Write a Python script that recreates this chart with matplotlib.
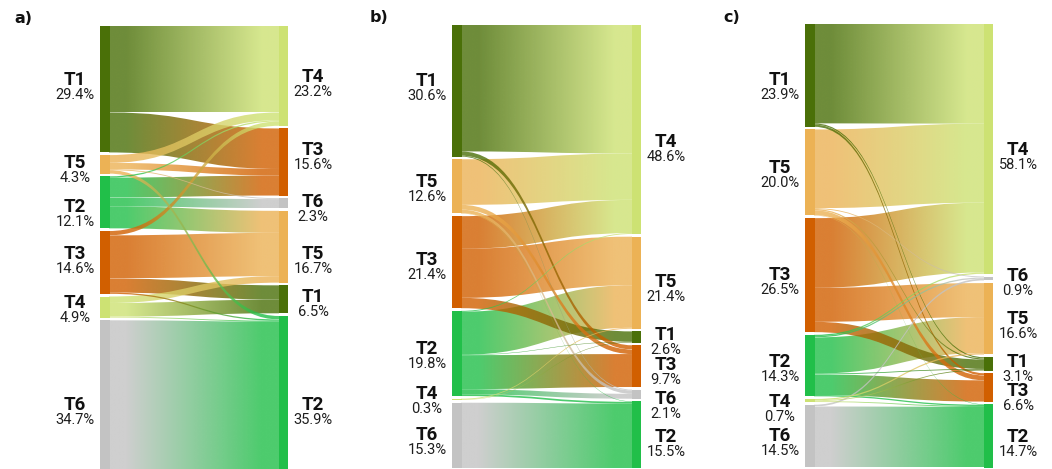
import numpy as np
import matplotlib
matplotlib.use("Agg")
import matplotlib.pyplot as plt
from matplotlib.path import Path
from matplotlib.patches import PathPatch, Rectangle
from matplotlib.colors import to_rgb

# ---------------------------------------------------------------- colours
NODE_COLORS = {
    "T1": "#4a7008",
    "T2": "#21bf49",
    "T3": "#d15f00",
    "T4": "#cde273",
    "T5": "#ecb255",
    "T6": "#c3c3c3",
}

# ---------------------------------------------------------------- panel a
A_LEFT_NODES = ["T1", "T5", "T2", "T3", "T4", "T6"]
A_LEFT_PCT = [29.4, 4.3, 12.1, 14.6, 4.9, 34.7]
A_RIGHT_NODES = ["T4", "T3", "T6", "T5", "T1", "T2"]
A_RIGHT_PCT = [23.2, 15.6, 2.3, 16.7, 6.5, 35.9]
A_SRC = ["T1", "T1",
         "T5", "T5", "T5", "T5",
         "T2", "T2", "T2", "T2",
         "T3", "T3", "T3", "T3",
         "T4", "T4", "T4",
         "T6"]
A_TGT = ["T4", "T3",
         "T4", "T3", "T6", "T2",
         "T4", "T3", "T6", "T5",
         "T4", "T5", "T1", "T2",
         "T5", "T1", "T2",
         "T2"]
A_VAL = [20.1, 9.3,
         1.8, 1.5, 0.2, 0.8,
         0.3, 4.6, 2.1, 5.1,
         1.0, 10.0, 3.3, 0.3,
         1.5, 3.2, 0.2,
         34.7]

# ---------------------------------------------------------------- panel b
B_LEFT_NODES = ["T1", "T5", "T3", "T2", "T4", "T6"]
B_LEFT_PCT = [30.6, 12.6, 21.4, 19.8, 0.3, 15.3]
B_RIGHT_NODES = ["T4", "T5", "T1", "T3", "T6", "T2"]
B_RIGHT_PCT = [48.6, 21.4, 2.6, 9.7, 2.1, 15.5]
B_SRC = ["T1", "T1", "T1",
         "T5", "T5", "T5", "T5",
         "T3", "T3", "T3",
         "T2", "T2", "T2", "T2", "T2", "T2",
         "T4", "T4",
         "T6"]
B_TGT = ["T4", "T3", "T6",
         "T4", "T3", "T6", "T2",
         "T4", "T5", "T1",
         "T4", "T5", "T1", "T3", "T6", "T2",
         "T5", "T1",
         "T2"]
B_VAL = [29.4, 1.0, 0.2,
         10.6, 1.1, 0.8, 0.1,
         7.6, 11.4, 2.4,
         0.2, 10.0, 0.1, 7.9, 1.2, 0.4,
         0.2, 0.1,
         15.3]

# ---------------------------------------------------------------- panel c
C_LEFT_NODES = ["T1", "T5", "T3", "T2", "T4", "T6"]
C_LEFT_PCT = [23.9, 20.0, 26.5, 14.3, 0.7, 14.5]
C_RIGHT_NODES = ["T4", "T6", "T5", "T1", "T3", "T2"]
C_RIGHT_PCT = [58.1, 0.9, 16.6, 3.1, 6.6, 14.7]
C_SRC = ["T1", "T1", "T1",
         "T5", "T5", "T5", "T5", "T5",
         "T3", "T3", "T3",
         "T2", "T2", "T2", "T2", "T2", "T2",
         "T4", "T4", "T4",
         "T6", "T6"]
C_TGT = ["T4", "T1", "T3",
         "T4", "T6", "T1", "T3", "T2",
         "T4", "T5", "T1",
         "T4", "T6", "T5", "T1", "T3", "T2",
         "T5", "T1", "T2",
         "T6", "T2"]
C_VAL = [23.1, 0.3, 0.5,
         18.3, 0.2, 0.3, 1.1, 0.1,
         16.2, 7.9, 2.4,
         0.3, 0.3, 8.4, 0.2, 4.8, 0.3,
         0.3, 0.2, 0.2,
         0.4, 14.1]

PANEL_LETTERS = ["a)", "b)", "c)"]

# ---------------------------------------------------------------- layout (pixels)
W_PX, H_PX = 1052, 469
PX_PER_UNIT = 4.3          # vertical pixels per percentage point
GAP_PX = 2.7               # white gap between stacked nodes
NODE_W_PX = 9.5
LINK_ALPHA = 0.8

PANEL_X = [(100, 288), (452, 641), (805, 993)]
PANEL_TOP = [26, 25, 24]
LETTER_POS = [(14, 23), (370, 22), (723, 22)]
LABEL_DX = 25
PCT_DY = 14
# baseline (px) of the class name label of each node, top to bottom
LABEL_Y_LEFT = [[85, 168, 212, 259, 308, 410],
                [86, 187, 265, 354, 399, 440],
                [85, 173, 280, 367, 407, 441]]
LABEL_Y_RIGHT = [[82, 155, 207, 259, 302, 410],
                 [147, 287, 340, 370, 404, 442],
                 [155, 281, 324, 367, 396, 442]]

NAME_FONT = dict(family="Roboto", weight="bold", size=13.5, color="#111111")
PCT_FONT = dict(family="Roboto", weight="normal", size=10.5, color="#1e1e1e")


def stack_tops(values, gap):
    tops, y = [], 0.0
    for v in values:
        tops.append(y)
        y += v + gap
    return tops


def band_path(x0, x1, s0, s1, t0, t1):
    xm = 0.5 * (x0 + x1)
    verts = [(x0, s0), (xm, s0), (xm, t0), (x1, t0),
             (x1, t1),
             (xm, t1), (xm, s1), (x0, s1),
             (x0, s0)]
    codes = [Path.MOVETO, Path.CURVE4, Path.CURVE4, Path.CURVE4,
             Path.LINETO,
             Path.CURVE4, Path.CURVE4, Path.CURVE4,
             Path.CLOSEPOLY]
    return Path(verts, codes)


def gradient_rgba(c_from, c_to, n=256):
    t = np.linspace(0, 1, n)
    ramp = np.clip((t - 0.1) / 0.8, 0, 1)
    a = np.array(to_rgb(c_from))
    b = np.array(to_rgb(c_to))
    img = np.zeros((1, n, 4))
    img[0, :, :3] = a + (b - a) * ramp[:, None]
    img[0, :, 3] = LINK_ALPHA
    return img


def draw_panel(fig, k, lnodes, lpct, rnodes, rpct, src, tgt, val):
    left_px, right_px = PANEL_X[k]
    top_px = PANEL_TOP[k]
    width = right_px - left_px
    height_px = H_PX - top_px + 3
    ax = fig.add_axes([left_px / W_PX, 1 - (top_px + height_px) / H_PX,
                       width / W_PX, height_px / H_PX])
    ax.axis("off")

    gap = GAP_PX / PX_PER_UNIT
    ltop = dict(zip(lnodes, stack_tops(lpct, gap)))
    rtop = dict(zip(rnodes, stack_tops(rpct, gap)))
    lsize = dict(zip(lnodes, lpct))
    rsize = dict(zip(rnodes, rpct))

    links = list(zip(src, tgt, val))
    out_sum = {n: sum(v for s, t, v in links if s == n) for n in lnodes}
    in_sum = {n: sum(v for s, t, v in links if t == n) for n in rnodes}

    # stack the link ends inside each node, ordered by the opposite node
    src_span, tgt_span = {}, {}
    for n in lnodes:
        y = ltop[n]
        idx = [i for i, l in enumerate(links) if l[0] == n]
        idx.sort(key=lambda i: rnodes.index(links[i][1]))
        for i in idx:
            h = links[i][2] * lsize[n] / out_sum[n]
            src_span[i] = (y, y + h)
            y += h
    for n in rnodes:
        y = rtop[n]
        idx = [i for i, l in enumerate(links) if l[1] == n]
        idx.sort(key=lambda i: lnodes.index(links[i][0]))
        for i in idx:
            h = links[i][2] * rsize[n] / in_sum[n]
            tgt_span[i] = (y, y + h)
            y += h

    x0, x1 = NODE_W_PX - 0.5, width - NODE_W_PX + 0.5
    order = sorted(range(len(links)), key=lambda i: -links[i][2])
    for z, i in enumerate(order):
        s, t, v = links[i]
        (s0, s1), (t0, t1) = src_span[i], tgt_span[i]
        path = band_path(x0, x1, s0, s1, t0, t1)
        clip = PathPatch(path, transform=ax.transData, facecolor="none",
                         edgecolor="none")
        ymin, ymax = min(s0, t0), max(s1, t1)
        im = ax.imshow(gradient_rgba(NODE_COLORS[s], NODE_COLORS[t]),
                       extent=[x0, x1, ymax, ymin], aspect="auto",
                       interpolation="bilinear", zorder=1 + z * 0.001)
        im.set_clip_path(clip)

    for n, v in zip(lnodes, lpct):
        ax.add_patch(Rectangle((0, ltop[n]), NODE_W_PX, v,
                               facecolor=NODE_COLORS[n], edgecolor="none",
                               zorder=3))
    for n, v in zip(rnodes, rpct):
        ax.add_patch(Rectangle((width - NODE_W_PX, rtop[n]), NODE_W_PX, v,
                               facecolor=NODE_COLORS[n], edgecolor="none",
                               zorder=3))
    ax.set_xlim(0, width)
    ax.set_ylim(height_px / PX_PER_UNIT, 0)

    # node labels: class name over its share
    lx = (left_px - LABEL_DX) / W_PX
    rx = (right_px + LABEL_DX) / W_PX
    for n, v, yb in zip(lnodes, lpct, LABEL_Y_LEFT[k]):
        fig.text(lx, 1 - yb / H_PX, n, ha="center", va="baseline", **NAME_FONT)
        fig.text(lx, 1 - (yb + PCT_DY) / H_PX, f"{v:.1f}%", ha="center",
                 va="baseline", **PCT_FONT)
    for n, v, yb in zip(rnodes, rpct, LABEL_Y_RIGHT[k]):
        fig.text(rx, 1 - yb / H_PX, n, ha="center", va="baseline", **NAME_FONT)
        fig.text(rx, 1 - (yb + PCT_DY) / H_PX, f"{v:.1f}%", ha="center",
                 va="baseline", **PCT_FONT)

    lxp, lyp = LETTER_POS[k]
    fig.text(lxp / W_PX, 1 - lyp / H_PX, PANEL_LETTERS[k], ha="left",
             va="baseline", family="DejaVu Sans", weight="bold", size=11.5,
             color="#111111")


fig = plt.figure(figsize=(W_PX / 100, H_PX / 100), dpi=100)
fig.patch.set_facecolor("white")

draw_panel(fig, 0, A_LEFT_NODES, A_LEFT_PCT, A_RIGHT_NODES, A_RIGHT_PCT,
           A_SRC, A_TGT, A_VAL)
draw_panel(fig, 1, B_LEFT_NODES, B_LEFT_PCT, B_RIGHT_NODES, B_RIGHT_PCT,
           B_SRC, B_TGT, B_VAL)
draw_panel(fig, 2, C_LEFT_NODES, C_LEFT_PCT, C_RIGHT_NODES, C_RIGHT_PCT,
           C_SRC, C_TGT, C_VAL)

fig.savefig("out.png", dpi=100, facecolor="white")
